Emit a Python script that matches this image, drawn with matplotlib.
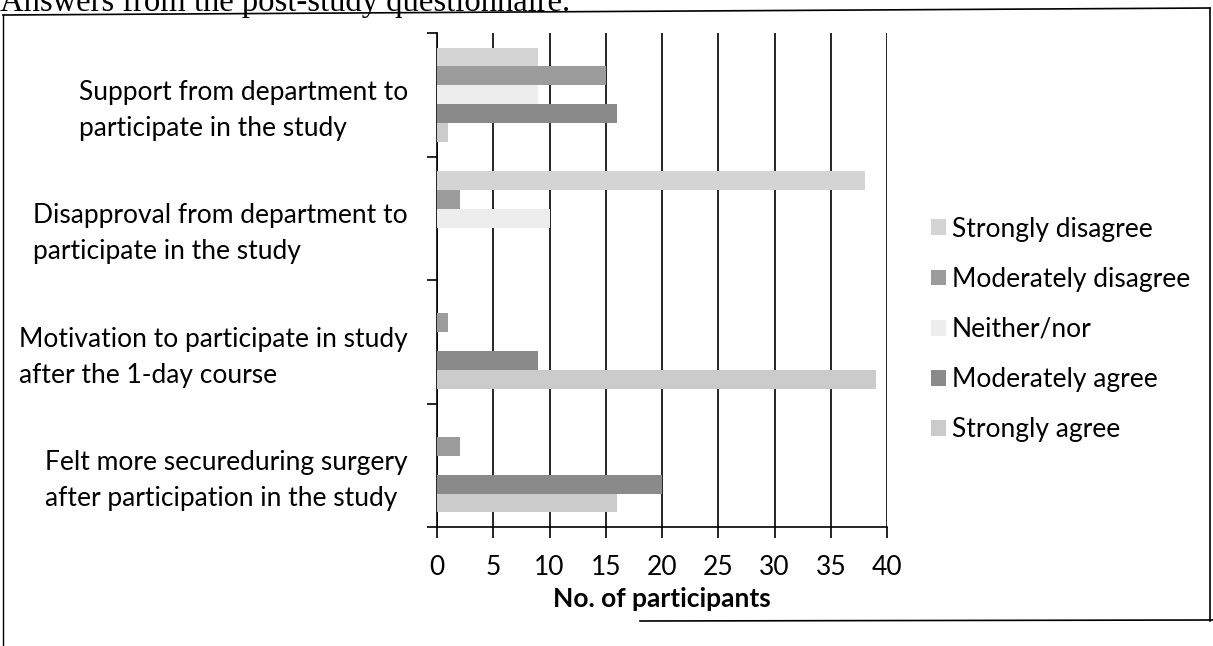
import matplotlib.pyplot as plt
from matplotlib.lines import Line2D
import numpy as np

plt.rcParams['font.family'] = ['Lato', 'DejaVu Sans']

categories = [
    "Support from department to\nparticipate in the study",
    "Disapproval from department to\nparticipate in the study",
    "Motivation to participate in study\nafter the 1-day course",
    "Felt more secureduring surgery\nafter participation in the study",
]
series = ["Strongly disagree", "Moderately disagree", "Neither/nor",
          "Moderately agree", "Strongly agree"]
strongly_disagree = [9, 38, 0, 0]
moderately_disagree = [15, 2, 1, 2]
neither_nor = [9, 10, 0, 0]
moderately_agree = [16, 0, 9, 20]
strongly_agree = [1, 0, 39, 16]
values = [strongly_disagree, moderately_disagree, neither_nor,
          moderately_agree, strongly_agree]
colors = ["#d4d4d4", "#9c9c9c", "#ededed", "#8a8a8a", "#cbcbcb"]
x_ticks = [0, 5, 10, 15, 20, 25, 30, 35, 40]

fig = plt.figure(figsize=(12.13, 6.46), dpi=100)
ax = fig.add_axes([437 / 1213, 1 - 527 / 646, 450 / 1213, 494 / 646])

bar_h = 0.153
y = np.arange(len(categories))
for i, (name, vals, c) in enumerate(zip(series, values, colors)):
    ax.barh(y + (i - 2) * bar_h, vals, height=bar_h, color=c,
            edgecolor="none", label=name, zorder=3)

ax.set_xlim(0, 40)
ax.set_ylim(3.5, -0.5)
ax.set_xticks(x_ticks)
ax.tick_params(axis="x", direction="out", length=8, width=1.2,
               labelsize=19, pad=12)
ax.xaxis.grid(True, color="black", linewidth=1.2, zorder=0)

ax.set_yticks(np.arange(-0.5, len(categories), 1.0))
ax.set_yticklabels([])
ax.tick_params(axis="y", which="major", direction="out", length=7, width=1.2)
ax.set_yticks(y + 0.06, minor=True)
ax.set_yticklabels(categories, minor=True, fontsize=19,
                   multialignment="left", linespacing=1.55)
ax.tick_params(axis="y", which="minor", length=0, pad=21)

for s in ["top", "right"]:
    ax.spines[s].set_visible(False)
for s in ["left", "bottom"]:
    ax.spines[s].set_linewidth(1.2)

ax.set_xlabel("No. of participants", fontsize=19, fontweight="bold",
              labelpad=5)

ax.legend(loc="center left", bbox_to_anchor=(1.045, 0.40), frameon=False,
          fontsize=19, handlelength=0.55, handleheight=0.55,
          handletextpad=0.25, labelspacing=0.95)

# page title cut off at the top and the surrounding frame
fig.text(0.0, 1 - 11 / 646, "Answers from the post-study questionnaire.",
         family="Liberation Serif", fontsize=23.5, va="baseline", ha="left")
fig.add_artist(Line2D([3 / 1213, 1210 / 1213], [1 - 15 / 646, 1 - 8 / 646],
                      color="black", lw=1.2))
fig.add_artist(Line2D([3 / 1213, 3 / 1213], [0, 1 - 15 / 646],
                      color="black", lw=1.0))
fig.add_artist(Line2D([1210 / 1213, 1210 / 1213],
                      [1 - 621 / 646, 1 - 8 / 646], color="black", lw=1.2))
fig.add_artist(Line2D([640 / 1213, 1], [1 - 621 / 646, 1 - 620 / 646],
                      color="black", lw=1.2))

fig.savefig("out.png", dpi=100)
